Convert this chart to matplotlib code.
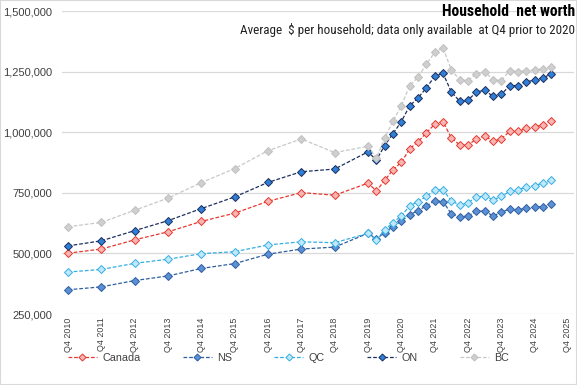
import matplotlib
matplotlib.use("Agg")
import matplotlib.pyplot as plt
from matplotlib import font_manager
from matplotlib.ticker import FuncFormatter
from matplotlib.patches import Rectangle

# periods: annual Q4 up to 2019, quarterly afterwards
periods = ["Q4 %d" % y for y in range(2010, 2020)] + \
          ["Q%d %d" % (q, y) for y in range(2020, 2026) for q in range(1, 5)][:22]

canada = [501, 518, 556, 589, 632, 666, 715, 751, 740, 790,
          758, 801, 845, 876, 931, 961, 997, 1033, 1044, 976, 948, 948,
          971, 985, 962, 973, 1003, 1003, 1016, 1023, 1030, 1048]
ns = [350, 362, 388, 407, 438, 458, 497, 518, 526, 583,
      560, 586, 611, 634, 659, 677, 696, 717, 714, 663, 649, 655,
      673, 675, 655, 669, 684, 680, 687, 691, 693, 703]
qc = [423, 434, 459, 476, 499, 507, 535, 548, 544, 583,
      555, 597, 627, 655, 696, 714, 735, 762, 762, 717, 699, 710,
      731, 738, 721, 735, 756, 762, 774, 780, 790, 801]
on = [531, 552, 594, 635, 685, 733, 793, 837, 848, 919,
      885, 945, 994, 1044, 1109, 1141, 1183, 1230, 1243, 1166, 1128, 1132,
      1166, 1173, 1148, 1156, 1192, 1192, 1207, 1216, 1224, 1241]
bc = [610, 628, 678, 728, 792, 850, 924, 972, 916, 942,
      893, 976, 1046, 1109, 1192, 1227, 1281, 1329, 1349, 1257, 1216, 1213,
      1241, 1250, 1216, 1213, 1254, 1250, 1254, 1257, 1261, 1270]

tick_labels = ["Q4 %d" % y for y in range(2010, 2026)]


def pos(label):
    q, y = label.split()
    return int(y) + (int(q[1]) - 1) / 4


x = [pos(p) for p in periods]

# pick a narrow font for the titles if one is installed
installed = {f.name for f in font_manager.fontManager.ttflist}
nfam = ["Liberation Sans", "DejaVu Sans"]
for cand in ["Liberation Sans Narrow", "Roboto Condensed", "Open Sans Condensed"]:
    if cand in installed:
        nfam = [cand, "DejaVu Sans"]
        break
afam = ["Liberation Sans", "DejaVu Sans"]

fig = plt.figure(figsize=(5.77, 3.85), dpi=100)
ax = fig.add_axes([0.1075, 0.1844, 0.8873, 0.787])

series = [
    ("Canada", canada, "#e8382f", "#f7b5b3", "#e8382f"),
    ("NS", ns, "#2f5f9e", "#5b8fd6", "#2f5f9e"),
    ("QC", qc, "#35aee2", "#bfe9fb", "#35aee2"),
    ("ON", on, "#1c2f5e", "#2f7fd8", "#1c2f5e"),
    ("BC", bc, "#c8c8c8", "#cfcfcf", "#c0c0c0"),
]
for name, vals, lc, mfc, mec in series:
    ax.plot(x, [v * 1000 for v in vals], color=lc, lw=0.9, ls=(0, (3, 1.5)),
            marker="D", ms=4.2, mfc=mfc, mec=mec, mew=0.7, label=name)

ax.set_ylim(250000, 1500000)
ax.set_yticks(range(250000, 1500001, 250000))
ax.yaxis.set_major_formatter(FuncFormatter(lambda v, p: "{:,.0f}".format(v)))
ax.set_xlim(2010.57, 2025.93)
ax.set_xticks([pos(t) for t in tick_labels])
ax.set_xticklabels(tick_labels, rotation=90)
ax.grid(axis="y", color="#d9d9d9", lw=0.9)
ax.set_axisbelow(True)
for s in ax.spines.values():
    s.set_visible(False)
ax.tick_params(length=0, labelsize=8, colors="#404040")
ax.tick_params(axis="y", pad=7)
ax.tick_params(axis="x", pad=2.5, labelsize=6.4)
for t in ax.get_yticklabels() + ax.get_xticklabels():
    t.set_fontfamily(afam)

title = fig.text(0.9965, 0.969, "Household  net worth", ha="right", va="center",
                 fontsize=11, fontweight="bold", family=nfam)
sub = fig.text(0.9965, 0.922, "Average  $ per household; data only available  at Q4 prior to 2020",
               ha="right", va="center", fontsize=9.2, family=nfam, color="#202020")


def fit(artist, target):
    # scale font so the drawn text spans the wanted number of pixels
    r = fig.canvas.get_renderer()
    bb = artist.get_window_extent(r)
    artist.set_fontsize(artist.get_fontsize() * target / bb.width)
    return artist.get_fontsize()


fit(title, 133)
fit(sub, 334)

probe = fig.text(0, 0, "Canada", fontsize=9, family=afam)
ls = fit(probe, 38)
probe.remove()

fig.legend(loc="center", bbox_to_anchor=(0.5, 0.07), ncol=5, frameon=False,
           prop={"family": afam, "size": ls}, handlelength=2.7,
           columnspacing=3.9, handletextpad=0.5, labelcolor="#404040",
           markerscale=0.85)

fig.patches.append(Rectangle((0, 0), 1, 1, transform=fig.transFigure, fill=False,
                             edgecolor="#d9d9d9", lw=1.5))

fig.savefig("out.png", dpi=100)
